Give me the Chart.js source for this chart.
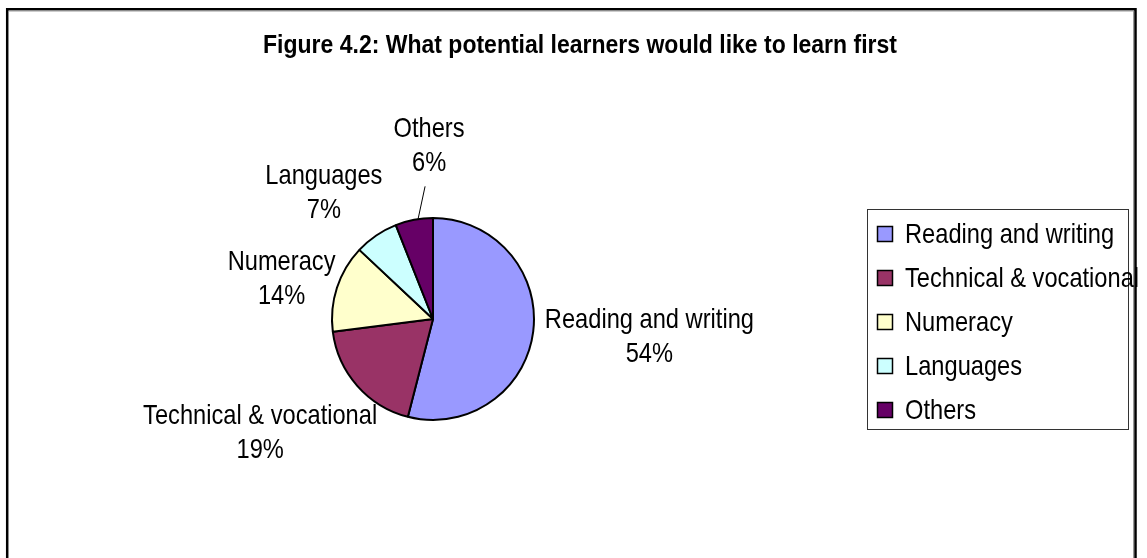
<!DOCTYPE html>
<html>
<head>
<meta charset="utf-8">
<title>Figure 4.2</title>
<script src="https://cdn.jsdelivr.net/npm/chart.js@4.4.1/dist/chart.umd.min.js"></script>
<style>
  html, body { margin: 0; padding: 0; background: #fff; overflow: hidden; }
  #wrap { position: relative; width: 1147px; height: 558px; }
</style>
</head>
<body>
<div id="wrap">
  <canvas id="myChart" width="1147" height="558"></canvas>
</div>

<script>
var titleText = 'Figure 4.2: What potential learners would like to learn first';
var categories = ['Reading and writing', 'Technical & vocational', 'Numeracy', 'Languages', 'Others'];
var shares = [54, 19, 14, 7, 6];
var sliceColors = ['#9999FF', '#993366', '#FFFFCC', '#CCFFFF', '#660066'];

// where each data label sits: distance from centre (in radii) and turn off the slice middle (deg)
var labelDist = [2.15, 2.05, 1.55, 1.65, 1.71];
var labelTurn = [-2.4, 8.0, -3.3, -6.7, 9.5];
var labelLeader = [false, false, false, false, true];

var fontFamily = "'Liberation Sans', Arial, sans-serif";

// text in a condensed look: draw with the x axis squeezed
function narrowText(ctx, text, x, y, align, squeeze) {
  ctx.save();
  ctx.translate(x, y);
  ctx.scale(squeeze, 1);
  ctx.textAlign = align;
  ctx.fillText(text, 0, 0);
  ctx.restore();
}

function drawFrame(ctx) {
  ctx.save();
  ctx.strokeStyle = '#000';
  ctx.lineWidth = 2.5;
  ctx.beginPath();
  ctx.moveTo(7.2, 600);
  ctx.lineTo(7.2, 9.2);
  ctx.lineTo(1135.5, 9.2);
  ctx.lineTo(1135.5, 600);
  ctx.stroke();
  ctx.strokeStyle = '#999';
  ctx.lineWidth = 1;
  ctx.beginPath();
  ctx.moveTo(9, 11);
  ctx.lineTo(1133.5, 11);
  ctx.lineTo(1133.5, 600);
  ctx.stroke();
  ctx.restore();
}

function drawTitle(ctx) {
  ctx.save();
  ctx.fillStyle = '#000';
  ctx.font = 'bold 25px ' + fontFamily;
  ctx.textBaseline = 'middle';
  narrowText(ctx, titleText, 580, 46, 'center', 0.92);
  ctx.restore();
}

function drawLabels(chart, ctx) {
  var arcs = chart.getDatasetMeta(0).data;
  ctx.save();
  ctx.fillStyle = '#000';
  ctx.font = '28px ' + fontFamily;
  ctx.textBaseline = 'middle';

  for (var i = 0; i < arcs.length; i++) {
    var arc = arcs[i];
    var p = arc.getProps(['x', 'y', 'startAngle', 'endAngle', 'outerRadius'], true);
    var mid = (p.startAngle + p.endAngle) / 2;
    var ang = mid + labelTurn[i] * Math.PI / 180;
    var lx = p.x + Math.cos(ang) * p.outerRadius * labelDist[i];
    var ly = p.y + Math.sin(ang) * p.outerRadius * labelDist[i];

    narrowText(ctx, categories[i], lx, ly - 17, 'center', 0.845);
    narrowText(ctx, shares[i] + '%', lx, ly + 17, 'center', 0.845);

    if (labelLeader[i]) {
      // leader line lands a little past the slice middle
      var hit = mid + 0.04;
      ctx.strokeStyle = '#000';
      ctx.lineWidth = 1;
      ctx.beginPath();
      ctx.moveTo(lx - 4, ly + 40);
      ctx.lineTo(p.x + Math.cos(hit) * p.outerRadius, p.y + Math.sin(hit) * p.outerRadius);
      ctx.stroke();
    }
  }
  ctx.restore();
}

function drawLegend(ctx) {
  var boxL = 867.5, boxT = 209.5, boxW = 261, boxH = 220;
  ctx.save();
  ctx.strokeStyle = '#333';
  ctx.lineWidth = 1;
  ctx.strokeRect(boxL, boxT, boxW, boxH);

  ctx.font = '28px ' + fontFamily;
  ctx.textBaseline = 'middle';
  for (var i = 0; i < categories.length; i++) {
    var cy = 234 + i * 44;
    ctx.fillStyle = sliceColors[i];
    ctx.fillRect(877.5, cy - 7.5, 15, 15);
    ctx.strokeStyle = '#000';
    ctx.lineWidth = 1.5;
    ctx.strokeRect(877.5, cy - 7.5, 15, 15);
    ctx.fillStyle = '#000';
    narrowText(ctx, categories[i], 905, cy + 1, 'left', 0.845);
  }
  ctx.restore();
}

var figurePlugin = {
  id: 'figureDecor',
  beforeDraw: function(chart) {
    var ctx = chart.ctx;
    ctx.save();
    ctx.fillStyle = '#fff';
    ctx.fillRect(0, 0, chart.width, chart.height);
    ctx.restore();
    drawFrame(ctx);
    drawTitle(ctx);
  },
  afterDraw: function(chart) {
    drawLabels(chart, chart.ctx);
    drawLegend(chart.ctx);
  }
};

function getChart() {
  var ctx = document.getElementById('myChart').getContext('2d');
  var chart = new Chart(ctx, {
    type: 'pie',
    data: {
      labels: categories,
      datasets: [{
        data: shares,
        backgroundColor: sliceColors,
        borderColor: '#000',
        borderWidth: 2
      }]
    },
    options: {
      responsive: false,
      animation: false,
      radius: 101,
      layout: {
        padding: { left: 332, right: 613, top: 218, bottom: 138 }
      },
      plugins: {
        legend: { display: false },
        tooltip: { enabled: false }
      }
    },
    plugins: [figurePlugin]
  });
}

getChart();
</script>
</body>
</html>
